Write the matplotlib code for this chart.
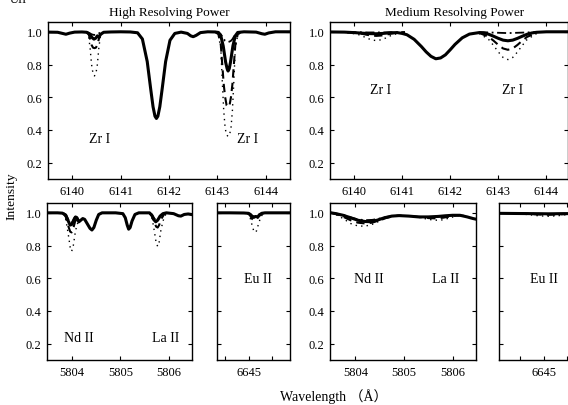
import matplotlib
matplotlib.use("Agg")
import matplotlib.pyplot as plt
from matplotlib.ticker import FixedLocator, FormatStrFormatter

plt.rcParams['font.family'] = ['Liberation Serif', 'Noto Sans CJK SC']
plt.rcParams['font.size'] = 9

# ---------- HIGH RESOLVING POWER, Zr I region ----------
hi_zr_wl = [6139.50, 6139.70, 6139.80, 6139.87, 6139.95, 6140.05, 6140.20, 6140.30, 6140.36, 6140.41,
            6140.45, 6140.49, 6140.52, 6140.55, 6140.59, 6140.65, 6140.80, 6141.00, 6141.20, 6141.35,
            6141.45, 6141.55, 6141.62, 6141.67, 6141.71, 6141.74, 6141.77, 6141.81, 6141.86, 6141.93,
            6142.02, 6142.12, 6142.25, 6142.38, 6142.45, 6142.50, 6142.56, 6142.65, 6142.80, 6142.95,
            6143.02, 6143.07, 6143.12, 6143.17, 6143.20, 6143.22, 6143.245, 6143.27, 6143.32, 6143.37,
            6143.42, 6143.55, 6143.80, 6143.92, 6143.98, 6144.06, 6144.20, 6144.50]
hi_zr_solid = [0.998, 0.997, 0.990, 0.985, 0.992, 0.998, 0.999, 0.997, 0.985, 0.965,
               0.955, 0.962, 0.975, 0.968, 0.985, 0.997, 0.999, 1.000, 0.999, 0.994,
               0.956, 0.818, 0.654, 0.542, 0.484, 0.470, 0.484, 0.542, 0.654, 0.818,
               0.948, 0.990, 0.998, 0.990, 0.975, 0.970, 0.978, 0.995, 1.000, 0.999,
               0.996, 0.976, 0.913, 0.814, 0.775, 0.760, 0.775, 0.814, 0.913, 0.976,
               0.996, 1.000, 0.998, 0.988, 0.985, 0.993, 1.000, 1.000]

hi_zr1_wl = [6140.30, 6140.34, 6140.37, 6140.40, 6140.43, 6140.46, 6140.49, 6140.52, 6140.55, 6140.58, 6140.62]
hi_zr1_dash = [0.998, 0.985, 0.955, 0.920, 0.903, 0.900, 0.903, 0.920, 0.955, 0.985, 0.998]
hi_zr1_dot = [0.998, 0.970, 0.900, 0.800, 0.745, 0.730, 0.745, 0.800, 0.900, 0.970, 0.998]
hi_zr1_dashdot = [0.998, 0.995, 0.990, 0.985, 0.982, 0.981, 0.982, 0.985, 0.990, 0.995, 0.998]

hi_zr2_wl = [6142.95, 6143.02, 6143.07, 6143.10, 6143.13, 6143.16, 6143.19, 6143.22,
             6143.25, 6143.28, 6143.31, 6143.34, 6143.37, 6143.42, 6143.49]
hi_zr2_dash = [1.000, 0.985, 0.920, 0.800, 0.680, 0.600, 0.550, 0.540,
               0.550, 0.600, 0.680, 0.800, 0.920, 0.985, 1.000]
hi_zr2_dot = [1.000, 0.980, 0.900, 0.700, 0.520, 0.410, 0.370, 0.360,
              0.370, 0.410, 0.520, 0.700, 0.900, 0.980, 1.000]
hi_zr2_dashdot = [1.000, 0.997, 0.985, 0.970, 0.955, 0.945, 0.940, 0.938,
                  0.940, 0.945, 0.955, 0.970, 0.985, 0.997, 1.000]

# ---------- MEDIUM RESOLVING POWER, Zr I region ----------
med_zr_wl = [6139.50, 6139.80, 6140.00, 6140.10, 6140.20, 6140.30, 6140.46, 6140.60, 6140.75, 6140.90,
             6141.00, 6141.10, 6141.25, 6141.40, 6141.50, 6141.60, 6141.70, 6141.80, 6141.90, 6142.00,
             6142.10, 6142.25, 6142.40, 6142.60, 6142.70, 6142.80, 6142.90, 6143.00, 6143.10, 6143.20,
             6143.30, 6143.40, 6143.50, 6143.60, 6143.70, 6143.80, 6144.00, 6144.50]
med_zr_solid = [0.999, 0.998, 0.995, 0.993, 0.991, 0.989, 0.988, 0.990, 0.994, 0.995,
                0.990, 0.982, 0.954, 0.910, 0.877, 0.850, 0.835, 0.840, 0.859, 0.890,
                0.923, 0.963, 0.986, 0.995, 0.993, 0.985, 0.973, 0.960, 0.949, 0.945,
                0.949, 0.960, 0.973, 0.985, 0.993, 0.997, 1.000, 1.000]

med_zr1_wl = [6139.86, 6140.06, 6140.16, 6140.26, 6140.36, 6140.46, 6140.56, 6140.66, 6140.76, 6140.86, 6141.06]
med_zr1_dash = [0.997, 0.993, 0.988, 0.982, 0.977, 0.975, 0.977, 0.982, 0.988, 0.993, 0.997]
med_zr1_dot = [0.995, 0.986, 0.976, 0.962, 0.951, 0.946, 0.951, 0.962, 0.976, 0.986, 0.995]
med_zr1_dashdot = [0.998, 0.997, 0.997, 0.996, 0.996, 0.996, 0.996, 0.996, 0.997, 0.997, 0.998]

med_zr2_wl = [6142.60, 6142.80, 6142.90, 6143.00, 6143.10, 6143.20, 6143.30, 6143.40, 6143.50, 6143.60, 6143.80]
med_zr2_dash = [0.994, 0.969, 0.946, 0.920, 0.898, 0.890, 0.898, 0.920, 0.946, 0.969, 0.994]
med_zr2_dot = [0.990, 0.953, 0.917, 0.877, 0.843, 0.830, 0.843, 0.877, 0.917, 0.953, 0.990]
med_zr2_dashdot = [0.998, 0.996, 0.995, 0.994, 0.993, 0.992, 0.993, 0.994, 0.995, 0.996, 0.998]

# ---------- HIGH RESOLVING POWER, Nd II / La II ----------
hi_nd_wl = [5803.50, 5803.70, 5803.80, 5803.87, 5803.92, 5803.96, 5804.00, 5804.03, 5804.07, 5804.10,
            5804.14, 5804.18, 5804.22, 5804.26, 5804.32, 5804.37, 5804.41, 5804.45, 5804.50, 5804.55,
            5804.62, 5804.90, 5805.05, 5805.10, 5805.14, 5805.17, 5805.20, 5805.24, 5805.30, 5805.38,
            5805.60, 5805.65, 5805.70, 5805.73, 5805.77, 5805.82, 5805.88, 5805.95, 5806.10, 5806.20,
            5806.25, 5806.32, 5806.40, 5806.50]
hi_nd_solid = [1.000, 1.000, 0.998, 0.985, 0.950, 0.925, 0.930, 0.955, 0.975, 0.970,
               0.945, 0.955, 0.965, 0.960, 0.930, 0.905, 0.895, 0.910, 0.955, 0.990,
               1.000, 1.000, 0.995, 0.970, 0.925, 0.900, 0.910, 0.950, 0.990, 1.000,
               1.000, 0.985, 0.955, 0.945, 0.955, 0.980, 0.995, 1.000, 0.995, 0.982,
               0.980, 0.990, 0.993, 0.988]

hi_ndline_wl = [5803.82, 5803.87, 5803.92, 5803.96, 5803.99, 5804.02, 5804.06, 5804.10, 5804.14]
hi_ndline_dash = [0.997, 0.975, 0.920, 0.885, 0.880, 0.900, 0.945, 0.965, 0.945]
hi_ndline_dot = [0.995, 0.960, 0.870, 0.790, 0.765, 0.790, 0.870, 0.930, 0.945]
hi_ndline_dashdot = [0.998, 0.990, 0.960, 0.940, 0.940, 0.955, 0.975, 0.972, 0.945]

hi_la_wl = [5805.60, 5805.65, 5805.70, 5805.74, 5805.77, 5805.80, 5805.84, 5805.90, 5805.95]
hi_la_dash = [1.000, 0.980, 0.940, 0.915, 0.910, 0.925, 0.960, 0.990, 1.000]
hi_la_dot = [1.000, 0.975, 0.890, 0.815, 0.795, 0.820, 0.900, 0.970, 0.997]
hi_la_dashdot = [1.000, 0.990, 0.965, 0.955, 0.958, 0.968, 0.985, 0.997, 1.000]

# ---------- HIGH RESOLVING POWER, Eu II ----------
hi_eu_wl = [6644.30, 6644.60, 6644.90, 6645.00, 6645.04, 6645.08, 6645.11, 6645.15, 6645.19, 6645.23,
            6645.28, 6645.35, 6645.60, 6645.90]
hi_eu_solid = [1.000, 1.000, 0.999, 0.997, 0.990, 0.978, 0.972, 0.978, 0.975, 0.987,
               0.997, 1.000, 1.000, 1.000]
hi_euline_wl = [6644.98, 6645.03, 6645.07, 6645.11, 6645.14, 6645.17, 6645.21, 6645.26, 6645.32]
hi_euline_dash = [0.998, 0.985, 0.965, 0.955, 0.955, 0.960, 0.975, 0.990, 0.998]
hi_euline_dot = [0.998, 0.975, 0.930, 0.890, 0.880, 0.890, 0.930, 0.975, 0.998]
hi_euline_dashdot = [0.998, 0.993, 0.982, 0.976, 0.977, 0.980, 0.988, 0.995, 0.999]

# ---------- MEDIUM RESOLVING POWER, Nd II / La II ----------
med_nd_wl = [5803.50, 5803.60, 5803.75, 5803.90, 5804.05, 5804.20, 5804.30, 5804.45, 5804.60, 5804.75,
             5804.90, 5805.10, 5805.30, 5805.50, 5805.70, 5805.85, 5806.00, 5806.15, 5806.30, 5806.42, 5806.50]
med_nd_solid = [1.000, 0.995, 0.985, 0.970, 0.955, 0.947, 0.946, 0.955, 0.970, 0.980,
                0.983, 0.980, 0.975, 0.975, 0.978, 0.982, 0.985, 0.985, 0.975, 0.965, 0.960]

med_ndline_wl = [5803.50, 5803.60, 5803.75, 5803.90, 5804.05, 5804.20, 5804.35, 5804.50, 5804.65, 5804.80, 5804.95]
med_ndline_dash = [1.000, 0.993, 0.976, 0.955, 0.940, 0.935, 0.940, 0.955, 0.970, 0.980, 0.983]
med_ndline_dot = [1.000, 0.990, 0.965, 0.935, 0.920, 0.918, 0.930, 0.950, 0.970, 0.980, 0.983]
med_ndline_dashdot = [1.000, 0.996, 0.988, 0.973, 0.960, 0.955, 0.957, 0.965, 0.975, 0.982, 0.983]

med_la_wl = [5805.20, 5805.35, 5805.50, 5805.65, 5805.80, 5805.95, 5806.10, 5806.25]
med_la_dash = [0.977, 0.974, 0.968, 0.966, 0.970, 0.978, 0.985, 0.982]
med_la_dot = [0.977, 0.970, 0.960, 0.955, 0.957, 0.970, 0.983, 0.982]
med_la_dashdot = [0.977, 0.975, 0.974, 0.975, 0.979, 0.984, 0.986, 0.982]

# ---------- MEDIUM RESOLVING POWER, Eu II ----------
med_eu_wl = [6644.00, 6644.40, 6644.80, 6645.10, 6645.40, 6645.80, 6646.00]
med_eu_solid = [0.997, 0.996, 0.995, 0.994, 0.995, 0.996, 0.996]
med_euline_wl = [6644.50, 6644.70, 6644.90, 6645.10, 6645.30, 6645.50, 6645.70]
med_euline_dash = [0.996, 0.993, 0.990, 0.988, 0.990, 0.993, 0.996]
med_euline_dot = [0.995, 0.988, 0.982, 0.979, 0.982, 0.990, 0.995]
med_euline_dashdot = [0.996, 0.995, 0.994, 0.993, 0.994, 0.995, 0.996]

yticks = [0.2, 0.4, 0.6, 0.8, 1.0]


def estilo(ax, xlim, xticks, minor=None, ylabels=True):
    ax.set_xlim(*xlim)
    ax.set_ylim(0.1, 1.06)
    ax.xaxis.set_major_locator(FixedLocator(xticks))
    if minor:
        ax.xaxis.set_minor_locator(FixedLocator(minor))
    ax.yaxis.set_major_locator(FixedLocator(yticks))
    ax.yaxis.set_major_formatter(FormatStrFormatter('%.1f'))
    ax.xaxis.set_major_formatter(FormatStrFormatter('%d'))
    ax.tick_params(which='both', direction='in', top=True, right=True,
                   length=3, width=0.8, labelsize=9, pad=4)
    ax.tick_params(which='minor', length=3)
    if not ylabels:
        ax.tick_params(labelleft=False)
    for s in ax.spines.values():
        s.set_linewidth(1.0)


def lineas(ax, wl, dash, dot, dashdot):
    ax.plot(wl, dot, color='black', lw=1.0, linestyle=(0, (1, 3)))
    ax.plot(wl, dash, color='black', lw=1.5, linestyle=(0, (4, 2.5)))
    ax.plot(wl, dashdot, color='black', lw=1.3, linestyle=(0, (5, 2, 1, 2)))


fig = plt.figure(figsize=(5.68, 4.06), dpi=100)

ax1 = fig.add_axes([0.0845, 0.5567, 0.4261, 0.3867])
ax2 = fig.add_axes([0.5810, 0.5567, 0.4190, 0.3867])
ax3 = fig.add_axes([0.0827, 0.1108, 0.2553, 0.3867])
ax4 = fig.add_axes([0.3820, 0.1108, 0.1285, 0.3867])
ax5 = fig.add_axes([0.5810, 0.1108, 0.2570, 0.3867])
ax6 = fig.add_axes([0.8785, 0.1108, 0.1285, 0.3867])

# panel superior izquierdo
lineas(ax1, hi_zr1_wl, hi_zr1_dash, hi_zr1_dot, hi_zr1_dashdot)
lineas(ax1, hi_zr2_wl, hi_zr2_dash, hi_zr2_dot, hi_zr2_dashdot)
ax1.plot(hi_zr_wl, hi_zr_solid, color='black', lw=2.2)
estilo(ax1, (6139.5, 6144.5), [6140, 6141, 6142, 6143, 6144])
ax1.text(6140.57, 0.35, 'Zr I', ha='center', va='center', fontsize=10)
ax1.text(6143.63, 0.35, 'Zr I', ha='center', va='center', fontsize=10)

# panel superior derecho
lineas(ax2, med_zr1_wl, med_zr1_dash, med_zr1_dot, med_zr1_dashdot)
lineas(ax2, med_zr2_wl, med_zr2_dash, med_zr2_dot, med_zr2_dashdot)
ax2.plot(med_zr_wl, med_zr_solid, color='black', lw=2.2)
estilo(ax2, (6139.5, 6144.45), [6140, 6141, 6142, 6143, 6144])
ax2.text(6140.56, 0.65, 'Zr I', ha='center', va='center', fontsize=10)
ax2.text(6143.3, 0.65, 'Zr I', ha='center', va='center', fontsize=10)

# panel inferior izquierdo
lineas(ax3, hi_ndline_wl, hi_ndline_dash, hi_ndline_dot, hi_ndline_dashdot)
lineas(ax3, hi_la_wl, hi_la_dash, hi_la_dot, hi_la_dashdot)
ax3.plot(hi_nd_wl, hi_nd_solid, color='black', lw=2.2)
estilo(ax3, (5803.48, 5806.48), [5804, 5805, 5806])
ax3.text(5804.14, 0.24, 'Nd II', ha='center', va='center', fontsize=10)
ax3.text(5805.93, 0.24, 'La II', ha='center', va='center', fontsize=10)

lineas(ax4, hi_euline_wl, hi_euline_dash, hi_euline_dot, hi_euline_dashdot)
ax4.plot(hi_eu_wl, hi_eu_solid, color='black', lw=2.2)
estilo(ax4, (6644.33, 6645.88), [6645], minor=[6644.5, 6645.5], ylabels=False)
ax4.text(6645.2, 0.6, 'Eu II', ha='center', va='center', fontsize=10)

# panel inferior derecho
lineas(ax5, med_ndline_wl, med_ndline_dash, med_ndline_dot, med_ndline_dashdot)
lineas(ax5, med_la_wl, med_la_dash, med_la_dot, med_la_dashdot)
ax5.plot(med_nd_wl, med_nd_solid, color='black', lw=2.2)
estilo(ax5, (5803.48, 5806.48), [5804, 5805, 5806])
ax5.text(5804.27, 0.6, 'Nd II', ha='center', va='center', fontsize=10)
ax5.text(5805.86, 0.6, 'La II', ha='center', va='center', fontsize=10)

lineas(ax6, med_euline_wl, med_euline_dash, med_euline_dot, med_euline_dashdot)
ax6.plot(med_eu_wl, med_eu_solid, color='black', lw=2.2)
estilo(ax6, (6644.06, 6645.6), [6645], minor=[6644.5, 6645.5], ylabels=False)
ax6.text(6645.0, 0.6, 'Eu II', ha='center', va='center', fontsize=10)

# textos generales
fig.text(169 / 568, 1 - 13 / 406, 'High Resolving Power', ha='center', va='center', fontsize=9.5)
fig.text(455 / 568, 1 - 13 / 406, 'Medium Resolving Power', ha='center', va='center', fontsize=9.5)
fig.text(12 / 568, 1 - 196 / 406, 'Intensity', rotation=90, ha='center', va='center', fontsize=9.7)
fig.text(334 / 568, 1 - 397 / 406, 'Wavelength （Å）', ha='center', va='center', fontsize=10)
fig.text(18 / 568, 1.0, 'UII', ha='center', va='center', fontsize=9)

fig.savefig('out.png', dpi=100)
